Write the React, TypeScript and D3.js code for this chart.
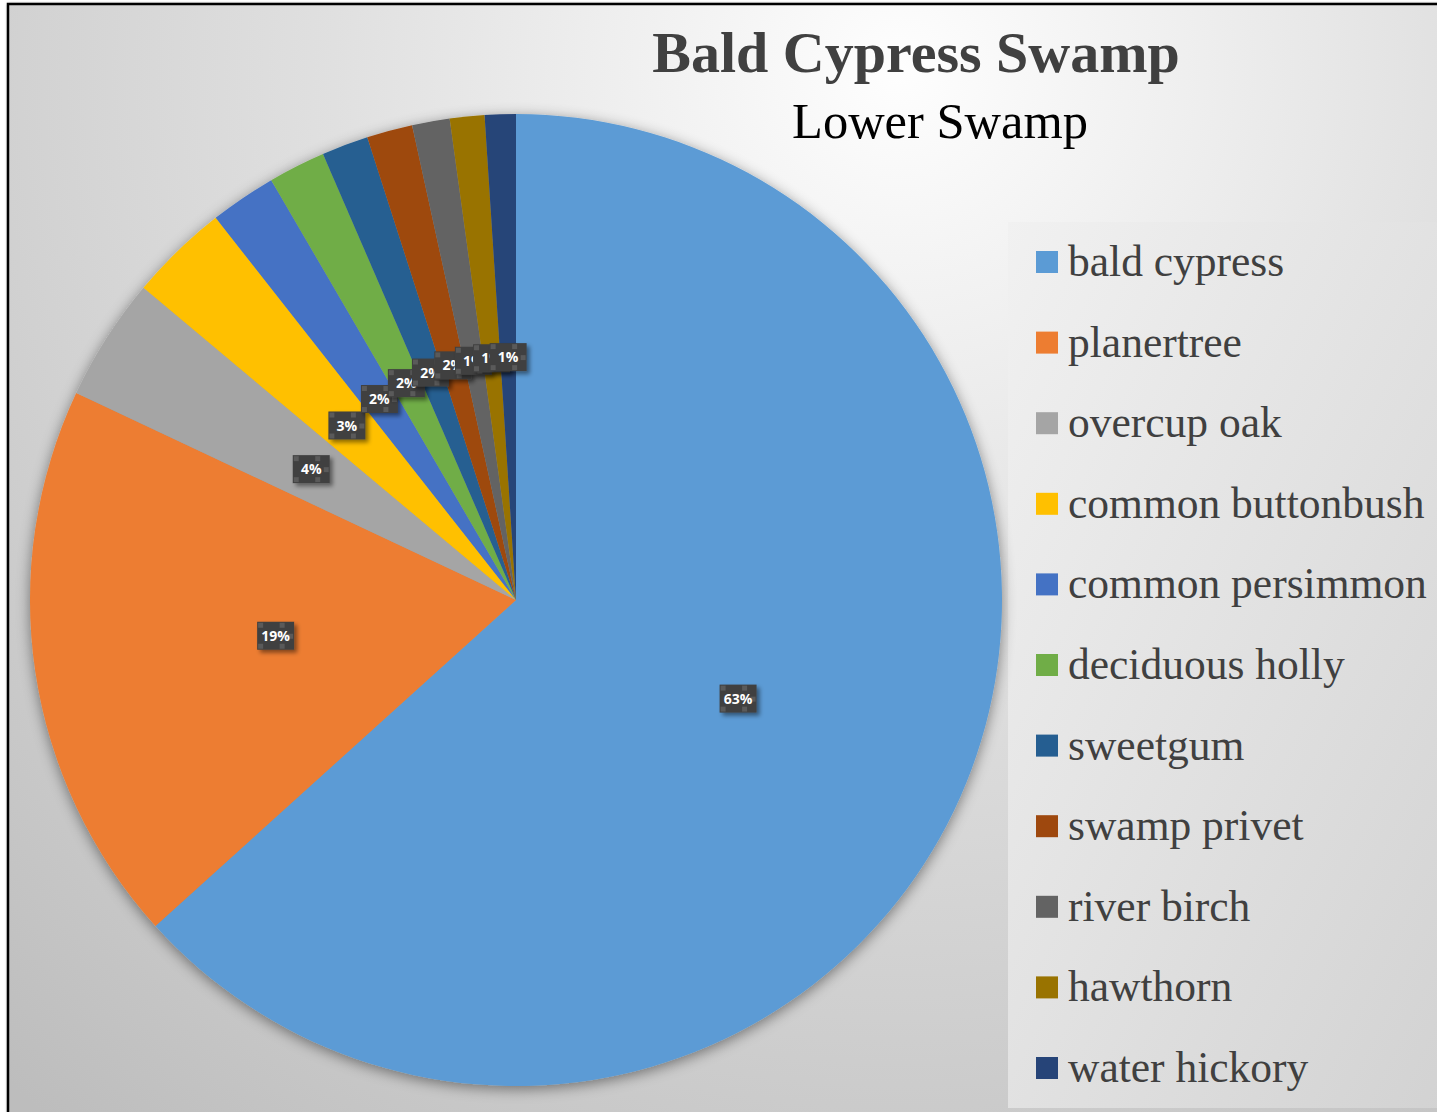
import React from "react";
import * as d3 from "d3";

// Tree species share, Lower Swamp plot (percent of stems)
const species = [
  "bald cypress",
  "planertree",
  "overcup oak",
  "common buttonbush",
  "common persimmon",
  "deciduous holly",
  "sweetgum",
  "swamp privet",
  "river birch",
  "hawthorn",
  "water hickory",
];
const shares = [63.3, 18.7, 4.1, 3.3, 2.2, 1.9, 1.55, 1.52, 1.25, 1.15, 1.03];
const colors = [
  "#5B9BD5",
  "#ED7D31",
  "#A5A5A5",
  "#FFC000",
  "#4472C4",
  "#70AD47",
  "#255E91",
  "#9E480E",
  "#636363",
  "#997300",
  "#264478",
];
const title = "Bald Cypress Swamp";
const subtitle = "Lower Swamp";

const W = 1437;
const H = 1112;
const cx = 516;
const cy = 600;
const R = 486;

type Row = { name: string; value: number; color: string };

export default function App() {
  const rows: Row[] = species.map((name, i) => ({ name, value: shares[i], color: colors[i] }));
  const total = d3.sum(rows, (d) => d.value);
  const pie = d3
    .pie<Row>()
    .value((d) => d.value)
    .sort(null)
    .startAngle(0)
    .endAngle(2 * Math.PI);
  const arcs = pie(rows);
  const arc = d3.arc<d3.PieArcDatum<Row>>().innerRadius(0).outerRadius(R);
  const labelArc = d3.arc<d3.PieArcDatum<Row>>().innerRadius(R * 0.5).outerRadius(R * 0.5);
  const pct = d3.format(".0%");

  const legendY = d3
    .scalePoint<string>()
    .domain(species)
    .range([262, 1068]);

  const boxW = 37;
  const boxH = 28;

  return (
    <div style={{ position: "absolute", left: 0, top: 0 }}>
      <svg width={W} height={H} style={{ display: "block" }}>
        <defs>
          <radialGradient id="bg" gradientUnits="userSpaceOnUse" cx={900} cy={70} r={1350}>
            <stop offset="0" stopColor="#fefefe" />
            <stop offset="0.42" stopColor="#e0e0e0" />
            <stop offset="1" stopColor="#bdbdbd" />
          </radialGradient>
          <linearGradient id="legbg" x1="0" y1="0" x2="1" y2="1">
            <stop offset="0" stopColor="#f1f1f1" />
            <stop offset="1" stopColor="#d2d2d2" />
          </linearGradient>
          <filter id="pieShadow" x="-10%" y="-10%" width="120%" height="120%">
            <feDropShadow dx="0" dy="3" stdDeviation="7" floodColor="#000" floodOpacity="0.45" />
          </filter>
          <filter id="boxShadow" x="-30%" y="-30%" width="170%" height="170%">
            <feDropShadow dx="3" dy="3" stdDeviation="2" floodColor="#000" floodOpacity="0.45" />
          </filter>
          <filter id="frameShadow" x="-5%" y="-5%" width="110%" height="110%">
            <feDropShadow dx="1" dy="1" stdDeviation="1.5" floodColor="#000" floodOpacity="0.5" />
          </filter>
        </defs>

        <rect x={0} y={0} width={W} height={H} fill="#ffffff" />
        <rect
          x={8}
          y={4}
          width={W + 20}
          height={H + 20}
          fill="url(#bg)"
          stroke="#000"
          strokeWidth={2.5}
          filter="url(#frameShadow)"
        />

        <text
          x={916}
          y={72}
          textAnchor="middle"
          fontFamily="'Liberation Serif', 'Times New Roman', serif"
          fontWeight="bold"
          fontSize={58}
          fill="#404040"
        >
          {title}
        </text>
        <text
          x={940}
          y={138}
          textAnchor="middle"
          fontFamily="'Liberation Serif', 'Times New Roman', serif"
          fontSize={50.5}
          fill="#000000"
        >
          {subtitle}
        </text>

        <rect x={1008} y={222} width={440} height={886} fill="url(#legbg)" />
        {rows.map((d) => {
          const y = legendY(d.name) as number;
          return (
            <g key={d.name}>
              <rect x={1036} y={y - 11} width={22} height={22} fill={d.color} />
              <text
                x={1068}
                y={y + 14}
                fontFamily="'Liberation Serif', 'Times New Roman', serif"
                fontSize={43.5}
                fill="#404040"
              >
                {d.name}
              </text>
            </g>
          );
        })}

        <g transform={`translate(${cx},${cy})`}>
          <g filter="url(#pieShadow)">
            {arcs.map((a) => (
              <path key={a.data.name} d={arc(a) as string} fill={a.data.color} />
            ))}
          </g>
          {arcs.map((a) => {
            const [lx, ly] = labelArc.centroid(a);
            const x0 = lx - boxW / 2;
            const y0 = ly - boxH / 2;
            const hs = 5;
            const handles = [
              [x0 + 1, y0 + 1],
              [x0 + boxW / 2 + 4, y0 + 1],
              [x0 + 1, y0 + boxH - hs - 1],
              [x0 + boxW / 2 + 4, y0 + boxH - hs - 1],
              [x0 + boxW - hs - 1, y0 + boxH / 2 - 2],
            ];
            return (
              <g key={"l" + a.data.name}>
                <rect x={x0} y={y0} width={boxW} height={boxH} fill="#404040" filter="url(#boxShadow)" />
                {handles.map(([hx, hy], k) => (
                  <rect key={k} x={hx} y={hy} width={hs} height={hs} fill="#5a5a5a" />
                ))}
                <text
                  x={lx}
                  y={ly + 5}
                  textAnchor="middle"
                  fontFamily="'Open Sans', 'DejaVu Sans', sans-serif"
                  fontWeight="bold"
                  fontSize={14}
                  fill="#ffffff"
                >
                  {pct(a.data.value / total)}
                </text>
              </g>
            );
          })}
        </g>
      </svg>
    </div>
  );
}
